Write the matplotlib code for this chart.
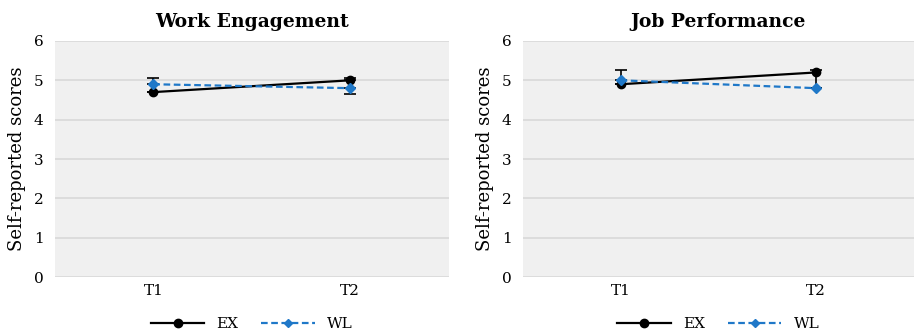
import matplotlib
matplotlib.use("Agg")
import matplotlib.pyplot as plt
from matplotlib.lines import Line2D

plt.rcParams["font.family"] = ["DejaVu Serif"]

times = ["T1", "T2"]
titles = ["Work Engagement", "Job Performance"]

# means per panel
ex_means = [[4.7, 5.0], [4.9, 5.2]]
wl_means = [[4.9, 4.8], [5.0, 4.8]]
# one-sided error bars (lower, upper)
ex_err = [[[0.0, 0.0], [0.0, 0.05]], [[0.0, 0.4], [0.0, 0.05]]]
wl_err = [[[0.0, 0.15], [0.15, 0.0]], [[0.0, 0.0], [0.25, 0.0]]]

ex_color = "black"
wl_color = "#1f78c8"
dash = (0, (3, 1.6))

fig = plt.figure(figsize=(9.14, 3.33), dpi=100)
axes = [fig.add_axes([0.060, 0.168, 0.431, 0.709]),
        fig.add_axes([0.572, 0.168, 0.428, 0.709])]

for k, ax in enumerate(axes):
    x = [0, 1]
    ax.set_facecolor("#f0f0f0")
    ax.errorbar(x, ex_means[k], yerr=ex_err[k], color=ex_color, lw=1.6,
                marker="o", ms=6, capsize=4, elinewidth=1.2, capthick=1.2,
                zorder=3)
    ax.errorbar(x, wl_means[k], yerr=wl_err[k], color=wl_color, lw=1.6,
                ls=dash, marker="D", ms=5, capsize=4, elinewidth=1.2,
                capthick=1.2, ecolor="black", zorder=4)
    ax.set_xlim(-0.5, 1.5)
    ax.set_ylim(0, 6)
    ax.set_yticks(range(7))
    ax.set_xticks(x)
    ax.set_xticklabels(times)
    ax.grid(axis="y", color="#d9d9d9", lw=1.2)
    ax.set_axisbelow(True)
    for s in ax.spines.values():
        s.set_visible(False)
    ax.tick_params(axis="y", length=0, labelsize=11, pad=8)
    ax.tick_params(axis="x", length=0, labelsize=11, pad=5)
    ax.set_ylabel("Self-reported scores", fontsize=13, labelpad=6)
    ax.set_title(titles[k], fontsize=13.5, fontweight="bold", pad=10)

    handles = [Line2D([], [], color=ex_color, lw=1.6, marker="o", ms=6),
               Line2D([], [], color=wl_color, lw=1.6, ls=dash, marker="D", ms=4)]
    ax.legend(handles, ["EX", "WL"], loc="center",
              bbox_to_anchor=(0.5, -0.2), ncol=2, frameon=False,
              fontsize=11, handlelength=3.5, columnspacing=1.5,
              borderpad=0.1)

fig.savefig("out.png", dpi=100)
